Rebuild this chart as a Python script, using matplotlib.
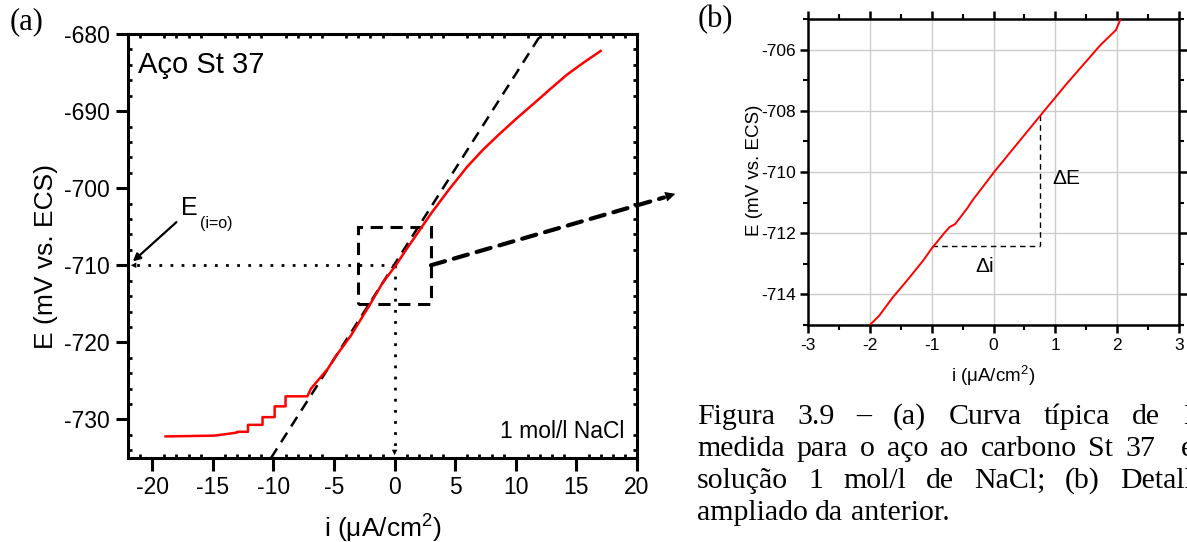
import numpy as np
import matplotlib
matplotlib.use('Agg')
import matplotlib.pyplot as plt
from matplotlib.patches import Rectangle, ConnectionPatch

plt.rcParams['font.family'] = ['Liberation Sans', 'DejaVu Sans']
plt.rcParams['mathtext.fontset'] = 'custom'
plt.rcParams['mathtext.rm'] = 'Liberation Sans'
plt.rcParams['axes.unicode_minus'] = False

# (a) full polarization curve
i_a = [-18.9, -14.9, -13.9, -13.0, -13.0, -12.1, -12.1, -10.9, -10.9, -9.9, -9.9, -9.0, -9.0,
       -7.2, -6.9, -6.2, -5.5, -4.9, -3.6, -2.0, -1.0, 0.1, 0.9, 2.3, 3.0, 4.5, 6.0, 7.3,
       8.7, 10.1, 11.5, 12.8, 14.2, 15.6, 17.0]
E_a = [-732.2, -732.1, -731.9, -731.7, -731.6, -731.6, -730.7, -730.7, -729.7, -729.7, -728.3,
       -728.3, -727.0, -727.0, -726.0, -724.7, -723.4, -721.9, -719.1, -715.0, -712.3, -710.0,
       -708.1, -704.9, -703.3, -700.15, -697.2, -695.0, -692.9, -690.9, -689.0, -687.2,
       -685.3, -683.7, -682.2]
# tangent line and zoom box
tangent_i = [-10.2, 12.1]
tangent_E = [-735.0, -680.0]
box_i = [-3.0, 3.0]
box_E = [-715.0, -705.0]
E_corr = -710.0
i_corr = 0.0

# (b) zoomed detail
i_b = [-2.0, -1.85, -1.63, -1.42, -1.14, -1.0, -0.79, -0.71, -0.62, -0.43, -0.33, 0.03,
       0.76, 1.19, 1.73, 1.98, 2.05]
E_b = [-715.0, -714.7, -714.1, -713.6, -712.9, -712.5, -711.98, -711.8, -711.7, -711.2,
       -710.9, -709.95, -708.15, -707.1, -705.85, -705.36, -705.03]
dE_i = 0.76
dE_top = -708.15
di_left = -1.0
di_E = -712.42

W, H = 1187, 542
fig = plt.figure(figsize=(W / 100, H / 100), dpi=100)

def frac(l, t, r, b):
    return [l / W, 1 - b / H, (r - l) / W, (b - t) / H]

xlab = 'i (\u03bcA/cm$^2$)'

# ---------------- panel (a)
ax = fig.add_axes(frac(128, 34, 637, 458))
ax.plot(i_a, E_a, color='red', lw=1.8, zorder=3)
ax.plot(tangent_i, tangent_E, color='black', lw=1.8, ls=(0, (4.5, 3)), zorder=2)
ax.add_patch(Rectangle((box_i[0], box_E[0]), box_i[1] - box_i[0], box_E[1] - box_E[0],
                       fill=False, ec='black', lw=2.2, ls=(0, (4, 2.5)), zorder=2))
# dotted lines to the axes
ax.plot([i_corr, i_corr], [E_corr, -734.2], color='black', lw=2, ls=(0, (1, 3)))
ax.plot([i_corr, -21.3], [E_corr, E_corr], color='black', lw=2, ls=(0, (1, 3)))
ax.annotate('', xy=(i_corr, -735), xytext=(i_corr, -733.6),
            arrowprops=dict(arrowstyle='-|>', color='black', lw=0, mutation_scale=10))
ax.annotate('', xy=(-22, E_corr), xytext=(-21.0, E_corr),
            arrowprops=dict(arrowstyle='-|>', color='black', lw=0, mutation_scale=10))
# E(i=o) label
ax.annotate('', xy=(-21.6, -709.5), xytext=(-18.0, -704.4),
            arrowprops=dict(arrowstyle='-|>', color='black', lw=1.6, mutation_scale=11,
                            shrinkA=0, shrinkB=0))
ax.text(-17.6, -702.6, 'E', fontsize=18, va='center', ha='left')
ax.text(-16.1, -704.6, '(i=o)', fontsize=11.5, va='center', ha='left')

ax.text(0.02, 0.96, 'Aço St 37', transform=ax.transAxes, fontsize=21, va='top', ha='left')
ax.text(0.975, 0.035, '1 mol/l NaCl', transform=ax.transAxes, fontsize=16.5,
        va='bottom', ha='right')

ax.set_xlim(-22, 20)
ax.set_ylim(-735, -680)
ax.set_xticks(np.arange(-20, 21, 5))
ax.set_xticks(np.arange(-22, 21, 1), minor=True)
ax.set_yticks(np.arange(-730, -679, 10))
ax.set_yticks(np.arange(-734, -679, 2), minor=True)
for s in ax.spines.values():
    s.set_linewidth(2.2)
ax.tick_params(which='major', direction='out', length=9, width=2.2, labelsize=16.5, pad=4)
ax.tick_params(which='minor', direction='out', length=4.5, width=2)
ax.tick_params(which='both', top=True, right=True)
ax.tick_params(axis='x', which='major', top=False)
ax.tick_params(axis='y', which='major', right=False)
ax.tick_params(axis='y', which='minor', right=True, direction='in', length=3)
ax.tick_params(axis='x', which='minor', top=True, direction='in', length=3)
ax.set_xlabel(xlab, fontsize=19)
ax.set_ylabel('E (mV vs. ECS)', fontsize=19)
ax.xaxis.set_label_coords(0.501, -0.125)
ax.yaxis.set_label_coords(-0.137, 0.475)

# big dashed arrow toward panel (b)
tip = (678 / W, 1 - 193 / H)
con = ConnectionPatch(xyA=(box_i[1], E_corr), coordsA='data', axesA=ax,
                      xyB=(664 / W, 1 - 197.5 / H), coordsB='figure fraction',
                      color='black', lw=3, ls=(0, (3.5, 2.2)))
fig.add_artist(con)
ax.annotate('', xy=tip, xycoords='figure fraction',
            xytext=(660 / W, 1 - 198.5 / H), textcoords='figure fraction',
            arrowprops=dict(arrowstyle='-|>', color='black', lw=0, mutation_scale=18),
            annotation_clip=False)

# ---------------- panel (b)
bx = fig.add_axes(frac(808, 19, 1179, 325))
bx.grid(True, color='#cccccc', lw=1)
bx.set_axisbelow(True)
bx.plot(i_b, E_b, color='red', lw=1.4, zorder=3)
bx.plot([dE_i, dE_i], [dE_top, di_E], color='black', lw=1, ls=(0, (4, 3)))
bx.plot([di_left, dE_i], [di_E, di_E], color='black', lw=1, ls=(0, (4, 3)))
bx.text(0.95, -710.2, '\u0394E', fontsize=15, va='center', ha='left')
bx.text(-0.15, -713.1, '\u0394i', fontsize=15, va='center', ha='center')
bx.set_xlim(-3, 3)
bx.set_ylim(-715, -705)
bx.set_xticks(np.arange(-3, 4, 1))
bx.set_xticks(np.arange(-3, 3.1, 0.5), minor=True)
bx.set_yticks(np.arange(-714, -705, 2))
bx.set_yticks(np.arange(-715, -704, 1), minor=True)
for s in bx.spines.values():
    s.set_linewidth(1.8)
bx.tick_params(which='major', direction='out', length=6, width=1.8, labelsize=12.5, pad=3)
bx.tick_params(which='minor', direction='out', length=3.5, width=1.5)
bx.tick_params(which='both', top=True, right=True)
bx.set_xlabel(xlab, fontsize=13.5)
bx.set_ylabel('E (mV vs. ECS)', fontsize=13.5)
bx.xaxis.set_label_coords(0.5, -0.125)
bx.yaxis.set_label_coords(-0.121, 0.506)

# panel letters and caption
serif = ['Liberation Serif', 'DejaVu Serif']
fig.text(10 / W, 1 - 22 / H, '(a)', family=serif, fontsize=22, va='center', ha='left')
fig.text(698 / W, 1 - 20 / H, '(b)', family=serif, fontsize=22, va='center', ha='left')

renderer = fig.canvas.get_renderer()
cap_size = 21.5

def place_words(words, x0, y, gap, last_x=None):
    # justified caption line: words laid out with a fixed gap in pixels
    x = x0
    for k, w in enumerate(words):
        if last_x is not None and k == len(words) - 1:
            x = last_x
        t = fig.text(x / W, 1 - y / H, w, family=serif, fontsize=cap_size, va='baseline')
        x += t.get_window_extent(renderer).width + gap

place_words(['Figura', '3.9', '–', '(a)', 'Curva', 'típica', 'de', 'E'], 697, 424, 22,
            last_x=1183)
place_words(['medida', 'para', 'o', 'aço', 'ao', 'carbono', 'St', '37', 'em'], 697, 456, 12,
            last_x=1181)
place_words(['solução', '1', 'mol/l', 'de', 'NaCl;', '(b)', 'Detalhe'], 697, 488, 20)
place_words(['ampliado', 'da', 'anterior.'], 697, 520, 7.5)

fig.savefig('out.png', dpi=100)
